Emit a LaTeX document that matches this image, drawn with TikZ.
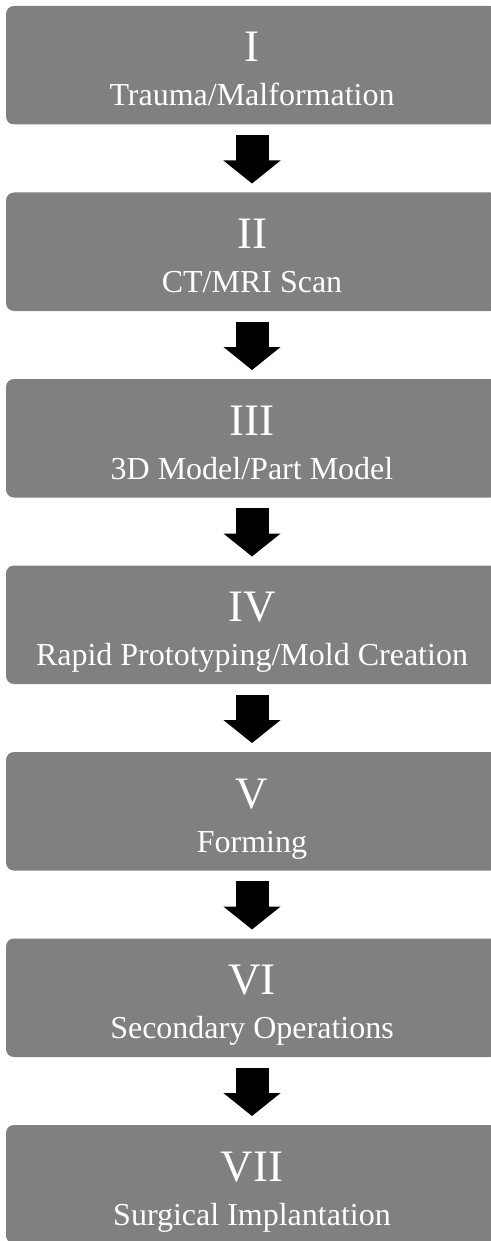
\documentclass[tikz,border=0pt]{standalone}
\usepackage{fontspec}
\setmainfont{Liberation Serif}
\usetikzlibrary{arrows.meta, positioning}
\definecolor{stagegray}{RGB}{128,128,128}
\tikzset{
  stage/.style    = {fill=stagegray, rounded corners=8pt, inner sep=0pt, outer sep=0pt,
                     minimum width=492pt, minimum height=118.5pt},
  numeral/.style  = {white, anchor=base, inner sep=0pt, font=\fontsize{45}{45}\selectfont},
  caption/.style  = {white, anchor=base, inner sep=0pt, font=\fontsize{32}{32}\selectfont},
  flow arrow/.style = {line width=33pt, -{Triangle[width=56pt, length=23pt]}},
}

\begin{document}
\begin{tikzpicture}[x=1pt, y=1pt, node distance=68pt]

  \useasboundingbox (0,0) rectangle (490,-1241);

  % stage boxes, top to bottom
  \node[stage] (s1) at (252,-65.25) {};
  \node[stage, below=of s1] (s2) {};
  \node[stage, below=of s2] (s3) {};
  \node[stage, below=of s3] (s4) {};
  \node[stage, below=of s4] (s5) {};
  \node[stage, below=of s5] (s6) {};
  \node[stage, below=of s6] (s7) {};

  % numerals and captions
  \foreach \i/\num/\txt in {1/I/{Trauma/Malformation},
                            2/II/{CT/MRI Scan},
                            3/III/{3D Model/Part Model},
                            4/IV/{Rapid Prototyping/Mold Creation},
                            5/V/{Forming},
                            6/VI/{Secondary Operations},
                            7/VII/{Surgical Implantation}}{
    \node[numeral] (n\i) at ([yshift=-56pt]s\i.north) {\num};
    \node[caption] (c\i) at ([yshift=-100pt]s\i.north) {\txt};
  }

  % arrows between stages
  \foreach \i in {1,...,6}{
    \pgfmathtruncatemacro\next{\i+1}
    \draw[flow arrow] ([yshift=-10.5pt]s\i.south) -- ([yshift=9pt]s\next.north);
  }

\end{tikzpicture}
\end{document}
